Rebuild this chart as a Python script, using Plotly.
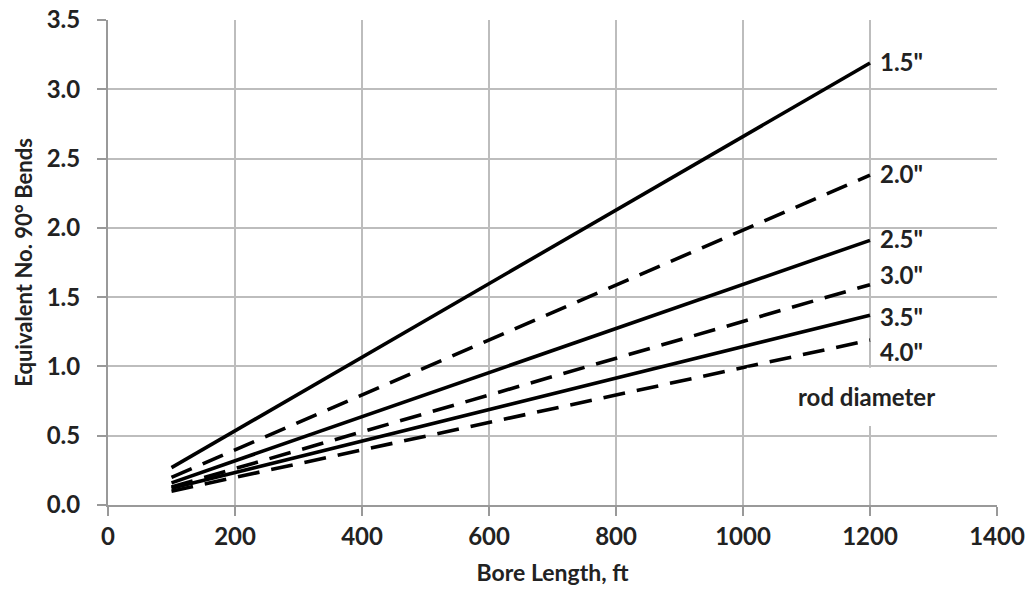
import plotly.graph_objects as go

bore_length = [100, 1200]
labels = ['1.5"', '2.0"', '2.5"', '3.0"', '3.5"', '4.0"']
bends = {
    '1.5"': [0.27, 3.19],
    '2.0"': [0.20, 2.38],
    '2.5"': [0.16, 1.91],
    '3.0"': [0.13, 1.59],
    '3.5"': [0.12, 1.37],
    '4.0"': [0.10, 1.19],
}
label_y = {'1.5"': 3.2, '2.0"': 2.39, '2.5"': 1.92, '3.0"': 1.66, '3.5"': 1.36, '4.0"': 1.11}
dashes = ["solid", "22px,12px", "solid", "22px,12px", "solid", "22px,12px"]
x_ticks = [0, 200, 400, 600, 800, 1000, 1200, 1400]
y_ticks = [0.0, 0.5, 1.0, 1.5, 2.0, 2.5, 3.0, 3.5]

FONT = "Lato"
TXT = "#222"
fig = go.Figure()
for lab, d in zip(labels, dashes):
    fig.add_trace(go.Scatter(x=bore_length, y=bends[lab], mode="lines",
                             line=dict(color="black", width=3.6, dash=d),
                             name=lab, showlegend=False))
    fig.add_annotation(x=bore_length[-1], y=label_y[lab], text=lab,
                       showarrow=False, xanchor="left", xshift=8,
                       font=dict(family=FONT, size=24, color=TXT, weight="bold"))

fig.add_shape(type="rect", xref="x", yref="y", x0=1006, x1=1410, y0=0.57, y1=0.99,
              fillcolor="white", line=dict(width=0), layer="above")
fig.add_annotation(x=1195, y=0.78, text="rod diameter", showarrow=False,
                   font=dict(family=FONT, size=24, color=TXT, weight="bold"))

axis_common = dict(showgrid=True, gridcolor="#bdbdbd", gridwidth=2,
                   showline=True, linecolor="#999", linewidth=2,
                   ticks="outside", ticklen=9, tickcolor="#999", tickwidth=2,
                   tickfont=dict(family=FONT, size=24, color=TXT, weight="bold"),
                   ticklabeloverflow="allow",
                   zeroline=False, automargin=False)

fig.update_layout(
    width=1032, height=599,
    margin=dict(l=108, r=35, t=20, b=94),
    paper_bgcolor="white", plot_bgcolor="white",
    font=dict(family=FONT, size=20, color=TXT),
    xaxis=dict(range=[0, 1400], tickvals=x_ticks, ticktext=[str(v) for v in x_ticks],
               title=dict(text="Bore Length, ft",
                          font=dict(family=FONT, size=23, color=TXT, weight="bold"), standoff=16),
               **axis_common),
    yaxis=dict(range=[0, 3.5], tickvals=y_ticks, ticktext=["%.1f" % v for v in y_ticks],
               ticklabelstandoff=12,
               title=dict(text="Equivalent No. 90° Bends",
                          font=dict(family=FONT, size=22, color=TXT, weight="bold"), standoff=8),
               **axis_common),
)
fig.write_html("out.html", config={"displayModeBar": False},
               post_script="document.body.style.margin='0';document.body.style.overflow='hidden';")
